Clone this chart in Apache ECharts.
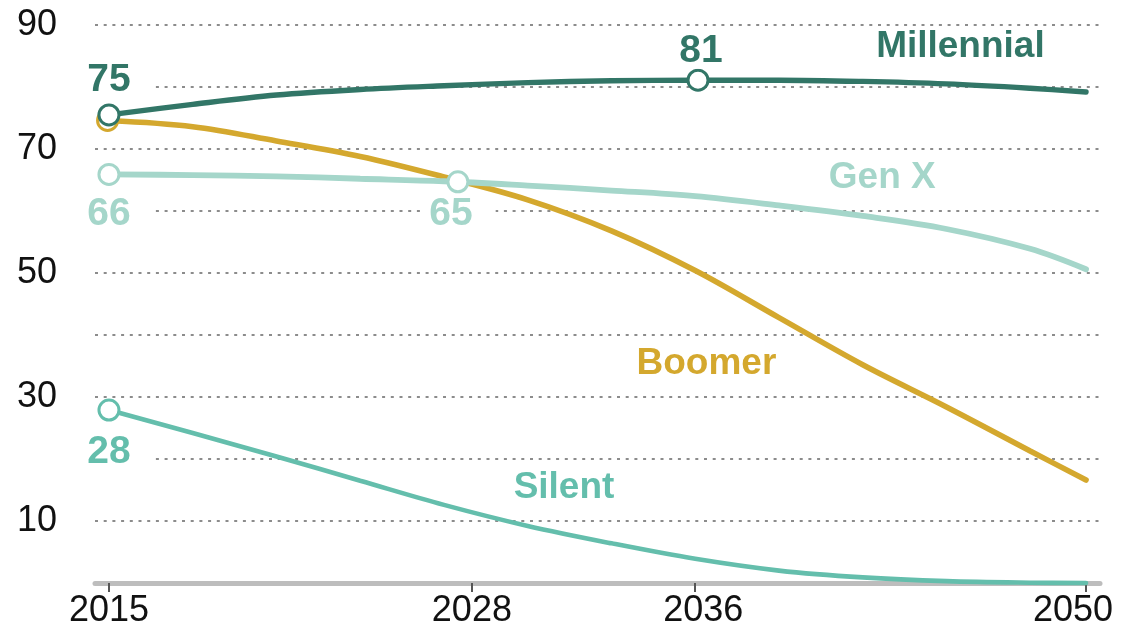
<!DOCTYPE html>
<html><head><meta charset="utf-8">
<script src="https://cdn.jsdelivr.net/npm/echarts@6/dist/echarts.min.js"></script>
<style>html,body{margin:0;padding:0;background:#fff}#c{width:1124px;height:630px}</style>
</head><body><div id="c"></div>
<script>
// ---- data ----
const years      = [2015, 2018, 2021, 2024, 2027, 2030, 2033, 2036, 2039, 2042, 2045, 2048, 2050];
const millennial = [75.5, 77.2, 78.7, 79.6, 80.2, 80.7, 81.0, 81.1, 81.1, 80.9, 80.5, 79.8, 79.2];
const genX       = [65.9, 65.8, 65.6, 65.2, 64.8, 64.1, 63.3, 62.4, 60.9, 59.2, 57.1, 53.9, 50.6];
const boomer     = [74.6, 73.6, 71.3, 68.8, 65.5, 61.8, 56.8, 50.4, 42.8, 35.2, 28.4, 21.3, 16.6];
const silent     = [27.9, 24.2, 20.4, 16.5, 12.6, 9.2, 6.4, 3.9, 2.0, 0.9, 0.3, 0.05, 0];
const xTickLabels = [2015, 2028, 2036, 2050];
const yTickLabels = [10, 30, 50, 70, 90];
// highlighted points: [year, value, label text]
const millennialMarks = [[2015, 75.5, '75'], [2036.1, 81.1, '81']];
const genXMarks       = [[2015, 65.9, '66'], [2027.5, 64.7, '65']];
const boomerMarks     = [[2014.95, 74.6, '']];
const silentMarks     = [[2015, 27.9, '28']];
const seriesNames = ['Millennial', 'Gen X', 'Boomer', 'Silent'];

// ---- styles ----
const FONT = 'Liberation Sans, Arial, sans-serif';
const C = { mill: '#327667', genx: '#a5d6ca', boom: '#d4a82e', sil: '#64beac' };

function lineSeries(name, vals, color, width, namePos, z) {
  return {
    type: 'line', name: name, z: z,
    data: years.map((y, i) => [y, vals[i]]),
    smooth: 0.35, showSymbol: false, clip: false,
    lineStyle: { color: color, width: width, cap: 'round', opacity: 1 },
    itemStyle: { color: color },
    markPoint: {
      symbol: 'circle', symbolSize: 0.1, silent: true,
      itemStyle: { color: 'rgba(0,0,0,0)' },
      label: { show: true, position: 'inside', formatter: name,
               color: color, fontFamily: FONT, fontWeight: 'bold', fontSize: 37 },
      data: [{ coord: namePos }]
    }
  };
}

function markSeries(marks, color, labelOpts, z) {
  return {
    type: 'scatter', clip: false, z: z,
    symbol: 'circle', symbolSize: 20,
    itemStyle: { color: '#ffffff', borderColor: color, borderWidth: 3, opacity: 1 },
    emphasis: { disabled: true },
    data: marks.map((m, i) => ({
      value: [m[0], m[1]], name: m[2],
      label: Object.assign({
        show: m[2] !== '', formatter: m[2],
        color: color, fontFamily: FONT, fontWeight: 'bold', fontSize: 39,
        lineHeight: 34, backgroundColor: '#fff', opacity: 1
      }, labelOpts[i] || {})
    }))
  };
}

const chart = echarts.init(document.getElementById('c'), null, { renderer: 'canvas' });
chart.setOption({
  animation: false,
  grid: { left: 95, right: 24, top: 25, bottom: 47, containLabel: false },
  xAxis: {
    type: 'value', min: 2014.5, max: 2050.5,
    splitLine: { show: false },
    axisLine: { show: true, lineStyle: { color: '#bdbdbd', width: 5 } },
    axisTick: { show: true, customValues: xTickLabels, length: 9, lineStyle: { color: '#555', width: 2 } },
    axisLabel: {
      show: true, customValues: xTickLabels, margin: 10,
      color: '#111', fontFamily: FONT, fontSize: 36,
      formatter: function (v) {
        if (v === 2036) return '{r|' + v + '}';
        if (v === 2050) return '{l|' + v + '}';
        return '{n|' + v + '}';
      },
      rich: {
        n: { color: '#111', fontFamily: FONT, fontSize: 36 },
        r: { color: '#111', fontFamily: FONT, fontSize: 36, padding: [0, 0, 0, 16] },
        l: { color: '#111', fontFamily: FONT, fontSize: 36, padding: [0, 26, 0, 0] }
      }
    }
  },
  yAxis: {
    type: 'value', min: 0, max: 90, interval: 10,
    axisLine: { show: false }, axisTick: { show: false },
    splitLine: { show: true, lineStyle: { color: '#8c8c8c', width: 2.2, type: [3, 5.7] } },
    axisLabel: {
      margin: 38, color: '#111', fontFamily: FONT, fontSize: 36,
      formatter: function (v) { return yTickLabels.indexOf(v) >= 0 ? String(v) : ''; }
    }
  },
  series: [
    lineSeries(seriesNames[3], silent, C.sil, 4.6, [2031.3, 15.3], 2),
    lineSeries(seriesNames[2], boomer, C.boom, 5.6, [2036.4, 35.4], 3),
    lineSeries(seriesNames[1], genX, C.genx, 5.8, [2042.7, 65.4], 4),
    lineSeries(seriesNames[0], millennial, C.mill, 5.4, [2045.5, 86.5], 5),
    markSeries(boomerMarks, C.boom, [], 10),
    markSeries(genXMarks, C.genx, [
      { position: 'bottom', distance: 11, padding: [0, 24] },
      { position: 'bottom', distance: 4, padding: [0, 23, 0, 9] }
    ], 11),
    markSeries(silentMarks, C.sil, [
      { position: 'bottom', distance: 14, padding: [0, 24] }
    ], 11),
    markSeries(millennialMarks, C.mill, [
      { position: 'top', distance: 6, padding: [0, 24] },
      { position: 'top', distance: 0, padding: [0, 4], offset: [3, 0] }
    ], 12)
  ]
});
</script>
</body></html>
